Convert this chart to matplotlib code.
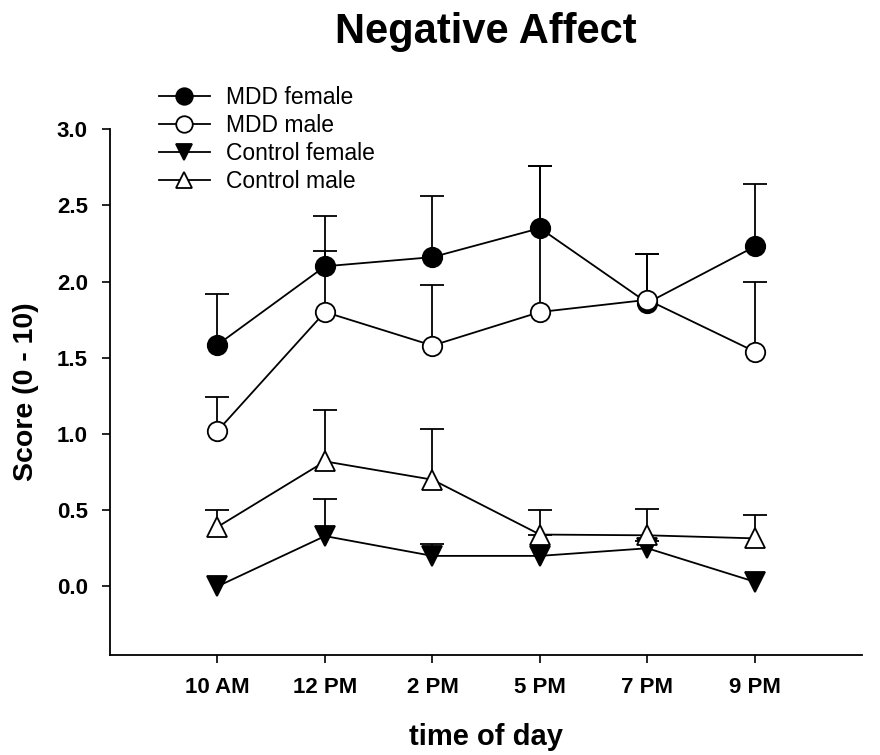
import matplotlib
matplotlib.use("Agg")
import matplotlib.pyplot as plt
import numpy as np

plt.rcParams['font.family'] = ['Liberation Sans', 'DejaVu Sans']

times = ["10 AM", "12 PM", "2 PM", "5 PM", "7 PM", "9 PM"]

mdd_female = [1.585, 2.10, 2.16, 2.35, 1.86, 2.23]
mdd_female_err = [0.335, 0.33, 0.40, 0.41, 0.32, 0.41]

mdd_male = [1.02, 1.80, 1.58, 1.80, 1.88, 1.54]
mdd_male_err = [0.22, 0.40, 0.40, 0.96, 0.30, 0.46]

control_female = [0.0, 0.33, 0.20, 0.20, 0.25, 0.03]
control_female_err = [0.0, 0.24, 0.08, 0.14, 0.05, 0.0]

control_male = [0.39, 0.82, 0.70, 0.34, 0.335, 0.315]
control_male_err = [0.11, 0.34, 0.33, 0.16, 0.17, 0.15]

x = np.arange(1, len(times) + 1)

fig = plt.figure(figsize=(8.8, 7.55), dpi=100)
ax = fig.add_axes([0.125, 0.1325, 0.855, 0.6965])

series = [
    ("MDD female", mdd_female, mdd_female_err, 'o', 'black', 14),
    ("MDD male", mdd_male, mdd_male_err, 'o', 'white', 14),
    ("Control female", control_female, control_female_err, 'v', 'black', 14),
    ("Control male", control_male, control_male_err, '^', 'white', 14),
]

handles = []
for i, (lab, vals, err, mk, fc, ms) in enumerate(series):
    vals = np.array(vals)
    err = np.array(err)
    ax.errorbar(x, vals, yerr=[np.zeros_like(err), err], fmt='none',
                ecolor='black', elinewidth=1.3, capsize=0,
                zorder=1 + i * 0.1)
    m = err > 0
    ax.plot(x[m], (vals + err)[m], linestyle='none', marker='_',
            markersize=17, markeredgewidth=1.3, color='black',
            zorder=1 + i * 0.1)
    h, = ax.plot(x, vals, color='black', lw=1.3, marker=mk, markersize=ms,
                 markerfacecolor=fc, markeredgecolor='black',
                 markeredgewidth=1.3, label=lab, zorder=3 + i * 0.1)
    handles.append(h)

ax.set_xlim(0, 7)
ax.set_ylim(-0.45, 3.0)
ax.set_xticks(x)
ax.set_xticklabels(times, fontsize=16, fontweight='bold')
ax.set_yticks([0.0, 0.5, 1.0, 1.5, 2.0, 2.5, 3.0])
ax.set_yticklabels(["0.0", "0.5", "1.0", "1.5", "2.0", "2.5", "3.0"],
                   fontsize=16, fontweight='bold')
ax.tick_params(direction='out', length=6, width=1.2)
ax.tick_params(axis='x', pad=10)
ax.tick_params(axis='y', pad=10)
for s in ['top', 'right']:
    ax.spines[s].set_visible(False)
for s in ['left', 'bottom']:
    ax.spines[s].set_linewidth(1.3)

ax.set_xlabel("time of day", fontsize=21, fontweight='bold', labelpad=18)
ax.set_ylabel("Score (0 - 10)", fontsize=20.5, fontweight='bold', labelpad=13)

fig.text(0.552, 0.958, "Negative Affect", fontsize=30, fontweight='bold',
         ha='center', va='center')

leg = fig.legend(handles=handles, loc='upper left',
                 bbox_to_anchor=(0.181, 0.886), frameon=False,
                 fontsize=16.5, handlelength=2.2, handletextpad=0.7,
                 labelspacing=0.22, markerscale=0.85, borderaxespad=0,
                 borderpad=0)

fig.savefig("out.png", dpi=100)
